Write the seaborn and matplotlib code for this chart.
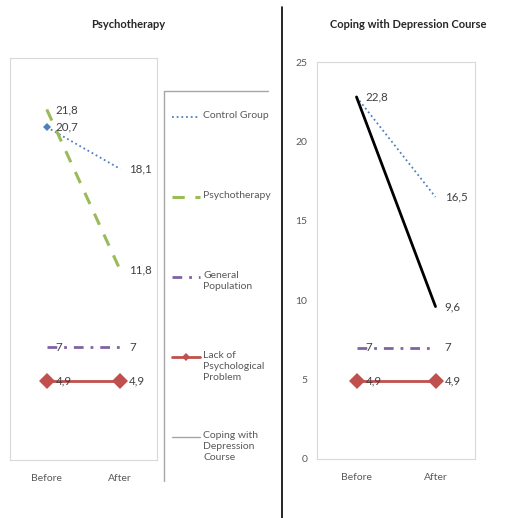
import matplotlib
matplotlib.use("Agg")
import matplotlib.pyplot as plt
import pandas as pd
import seaborn as sns
from matplotlib.lines import Line2D

# Данные
stages = ["Before", "After"]

psy_control = [20.7, 18.1]
psy_therapy = [21.8, 11.8]
psy_general = [7, 7]
psy_lack = [4.9, 4.9]

cop_control = [22.8, 16.5]
cop_course = [22.8, 9.6]
cop_general = [7, 7]
cop_lack = [4.9, 4.9]

series_names = ["Control Group", "Psychotherapy", "General\nPopulation",
                "Lack of\nPsychological\nProblem", "Coping with\nDepression\nCourse"]
y_ticks = [0, 5, 10, 15, 20, 25]

W, H = 530, 518
TXT = "#595959"
GRID = "#D9D9D9"

# Стили линий
styles = {
    "control": dict(color="#4F81BD", lw=1.3, ls=(0, (1, 1.6))),
    "therapy": dict(color="#9BBB59", lw=2.2, ls=(0, (4, 3.5))),
    "general": dict(color="#8064A2", lw=2.0, ls=(0, (3.5, 2.5, 1, 2.5))),
    "lack": dict(color="#C0504D", lw=2.0, ls="-"),
    "course": dict(color="#000000", lw=2.0, ls="-"),
}


def px(x, y):
    return x / W, 1 - y / H


def fmt(v):
    return f"{v:g}".replace(".", ",")


def add_label(ax, i, v):
    ax.annotate(fmt(v), (i, v), xytext=(6.5, 0), textcoords="offset points",
                ha="left", va="center", fontsize=8.3, color="#404040")


def draw_series(ax, values, key, marker=None, markevery=None, ms=8, labels=True):
    st = styles[key]
    df = pd.DataFrame({"stage": stages, "value": values})
    sns.lineplot(data=df, x="stage", y="value", ax=ax, color=st["color"],
                 linewidth=st["lw"], linestyle=st["ls"], marker=marker,
                 markevery=markevery, markersize=ms, markeredgewidth=0,
                 sort=False, legend=False)
    if labels:
        for i, v in enumerate(values):
            add_label(ax, i, v)


def style_axes(ax, show_labels):
    ax.set_xlim(-0.5, 1.5)
    ax.set_ylim(0, 25)
    ax.set_yticks(y_ticks)
    if not show_labels:
        ax.set_yticklabels([])
    ax.set_xticks([0, 1])
    ax.set_xticklabels(stages)
    ax.set_xticks([-0.5, 0.5, 1.5], minor=True)
    ax.tick_params(axis="x", which="major", length=0, pad=10, labelsize=7.5, labelcolor=TXT)
    ax.tick_params(axis="x", which="minor", length=4, color=GRID, direction="out")
    ax.tick_params(axis="y", length=4, color=GRID, direction="out", pad=3,
                   labelsize=7.5, labelcolor=TXT)
    ax.set_xlabel("")
    ax.set_ylabel("")
    for sp in ax.spines.values():
        sp.set_visible(True)
        sp.set_color(GRID)
        sp.set_linewidth(0.8)


sns.set_theme(style="white")
plt.rcParams["font.family"] = ["Lato", "DejaVu Sans"]

fig = plt.figure(figsize=(W / 100, H / 100), dpi=100)

# Левая панель
ax1 = fig.add_axes([10 / W, 1 - 460 / H, 147 / W, 402 / H])
draw_series(ax1, psy_control, "control", marker="D", markevery=[0], ms=4.5)
draw_series(ax1, psy_therapy, "therapy")
draw_series(ax1, psy_general, "general")
draw_series(ax1, psy_lack, "lack", marker="D")
style_axes(ax1, show_labels=False)

# Правая панель
ax2 = fig.add_axes([317 / W, 1 - 459 / H, 158 / W, 397 / H])
draw_series(ax2, cop_control, "control", labels=False)
draw_series(ax2, cop_course, "course")
add_label(ax2, 1, cop_control[1])
draw_series(ax2, cop_general, "general")
draw_series(ax2, cop_lack, "lack", marker="D")
style_axes(ax2, show_labels=True)

# Заголовки
fig.text(*px(128, 24), "Psychotherapy", ha="center", va="center",
         fontsize=8, fontweight="bold", color="#262626")
fig.text(*px(408, 24), "Coping with Depression Course", ha="center", va="center",
         fontsize=8, fontweight="bold", color="#262626")

# Разделительная линия
fig.add_artist(Line2D([282 / W, 282 / W], [1 - 7 / H, 0], color="black", lw=1.2))

# Легенда (рамка и элементы)
fig.add_artist(Line2D([164 / W, 268 / W], [1 - 91 / H, 1 - 91 / H], color="#A6A6A6", lw=1))
fig.add_artist(Line2D([164 / W, 164 / W], [1 - 91 / H, 1 - 481 / H], color="#A6A6A6", lw=1))

legend_keys = ["control", "therapy", "general", "lack", "course"]
legend_y = [117, 197, 277, 357, 437]
for key, name, yy in zip(legend_keys, series_names, legend_y):
    st = dict(styles[key])
    if key == "course":
        st = dict(color="#A6A6A6", lw=1.0, ls="-")
    fy = 1 - yy / H
    fig.add_artist(Line2D([172 / W, 200 / W], [fy, fy], color=st["color"],
                          lw=st["lw"], linestyle=st["ls"]))
    if key == "lack":
        fig.add_artist(Line2D([186 / W], [fy], color=st["color"], marker="D",
                              markersize=4.5, markeredgewidth=0))
    fig.text(203 / W, fy + 6.5 / H, name, ha="left", va="top", fontsize=7.5,
             color=TXT, linespacing=1.35)

plt.savefig("out.png", dpi=100)
